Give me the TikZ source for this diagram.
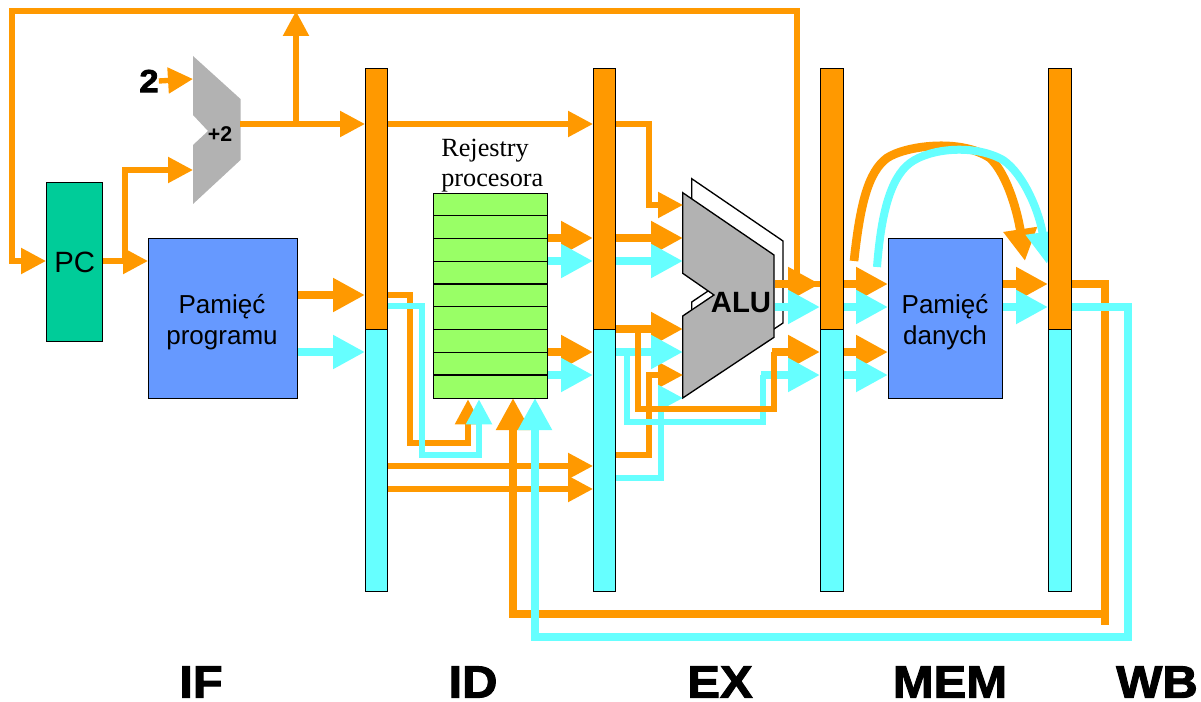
\documentclass[tikz,border=0pt]{standalone}
\usepackage{fontspec}
\setmainfont{Liberation Sans}
\newfontfamily\regfont{Liberation Serif}
\newfontfamily\heavyfont[BoldFeatures={FakeBold=2.2,FakeStretch=1.08}]{Liberation Sans}
\usetikzlibrary{arrows.meta,backgrounds}
\definecolor{oline}{HTML}{FF9900}
\definecolor{cline}{HTML}{66FFFF}
\definecolor{pcfill}{HTML}{00CC99}
\definecolor{memfill}{HTML}{6699FF}
\definecolor{regfill}{HTML}{99FF66}
\definecolor{alufill}{HTML}{B2B2B2}

\begin{document}
\begin{tikzpicture}[x=0.75pt,y=0.75pt,yscale=-1,xscale=1,
  box/.style n args={2}{draw=black,line width=1pt,inner sep=0pt,anchor=north west,minimum width=#1*0.75pt,minimum height=#2*0.75pt},
  wire/.style={line width=4pt,line join=miter},
  bus/.style={line width=6pt,line join=miter},
  wiretip/.style={wire,-{Triangle[length=18.75pt,width=18.75pt]}},
  bustip/.style={bus,-{Triangle[length=24pt,width=24pt]}},
  stage/.style={font=\heavyfont\bfseries\fontsize{34}{40}\selectfont,inner sep=0pt},
  label/.style={font=\fontsize{19.5}{23.25}\selectfont,align=center,inner sep=0pt}]
\useasboundingbox (0,0) rectangle (1201,702);

%Shape: pipeline registers
\draw (365,68) node [box={22}{261},fill=oline] (ifidTop) {};
\draw (365,329) node [box={22}{262},fill=cline] (ifidBot) {};
\draw (593,68) node [box={22}{261},fill=oline] (idexTop) {};
\draw (593,329) node [box={22}{262},fill=cline] (idexBot) {};
\draw (820,68) node [box={23}{261},fill=oline] (exmemTop) {};
\draw (820,329) node [box={23}{262},fill=cline] (exmemBot) {};
\draw (1048,68) node [box={23}{261},fill=oline] (memwbTop) {};
\draw (1048,329) node [box={23}{262},fill=cline] (memwbBot) {};

%Shape: blocks
\draw (46,182) node [box={56}{159},fill=pcfill,label,font=\fontsize{22}{26}\selectfont] (pc) {PC};
\draw (148,238) node [box={149}{160},fill=memfill] (progMem) {};
\draw (888,238) node [box={114}{160},fill=memfill] (dataMem) {};
\draw (433,193) node [box={114}{205},fill=regfill] (regs) {};
\foreach \y in {215.75,238.5,261.25,284,306.75,329.5,352.25,375} {
  \draw [line width=1pt] (regs.west |- 0,\y) -- (regs.east |- 0,\y);
}

% Text Node
\draw (222,322) node [label] (progName) {Pamięć\\programu};
\draw (945,322) node [label] (dataName) {Pamięć\\danych};
\draw (441,139) node [anchor=north west,inner sep=0pt,align=left,font=\regfont\fontsize{19.7}{22.5}\selectfont] (regsName) {Rejestry\\procesora};
\draw (220,134) node [inner sep=0pt,font=\bfseries\fontsize{16}{18}\selectfont] (adderName) {+2};
\draw (149,81) node [inner sep=0pt,font=\heavyfont\bfseries\fontsize{24}{26}\selectfont] (two) {2};
\draw (741,303) node [inner sep=0pt,font=\bfseries\fontsize{22}{26}\selectfont] (aluName) {ALU};
\draw (201,682) node [stage] (ifName) {IF};
\draw (473,682) node [stage] (idName) {ID};
\draw (720,682) node [stage] (exName) {EX};
\draw (950,682) node [stage] (memName) {MEM};
\draw (1157,682) node [stage] (wbName) {WB};

\coordinate (addIn) at (193,79);
\coordinate (addOut) at (240,124);
\coordinate (aluOut) at (775,284);

\begin{pgfonlayer}{background}
%Shape: adder
\fill [alufill] (193,56) -- (240.5,99) -- (240.5,160) -- (193,204) -- (193,145) -- (208,131) -- (193,115) -- cycle;
%Shape: ALU
\draw [fill=white,line width=1pt] (691.7,178.7) -- (783,241) -- (783,323) -- (691.7,384) -- (691.7,302) -- (723,281) -- (691.7,259) -- cycle;
\draw [fill=alufill,line width=1pt] (682.7,192.7) -- (774,255) -- (774,337.3) -- (682.7,398) -- (682.7,316) -- (714,295) -- (682.7,273.3) -- cycle;

%Straight Lines: program counter and adder
\draw [wiretip,oline] (two.east) -- (addIn);
\draw [wiretip,oline] (addOut) -- (ifidTop.west |- addOut);
\draw [wiretip,oline] (296,124) -- (296,11);
\draw [wiretip,oline] (exmemTop.west |- 0,284) -- ++(-23,0) -- (797,11) -- (12,11) -- (12,261) -- (pc.west |- 0,261);
\draw [wiretip,oline] (pc.east |- 0,261) -- (progMem.west |- 0,261);
\draw [wiretip,oline] (125,261) -- (125,170) -- (193,170);

%Straight Lines: orange paths
\draw [bustip,oline] (progMem.east |- 0,295) -- (ifidTop.west |- 0,295);
\draw [wiretip,oline] (ifidTop.east |- 0,124) -- (idexTop.west |- 0,124);
\draw [wiretip,oline] (ifidTop.east |- 0,295) -- (410,295) -- (410,443) -- (468,443) -- (regs.south -| 468,0);
\draw [wiretip,oline] (ifidBot.east |- 0,466) -- (idexBot.west |- 0,466);
\draw [wiretip,oline] (ifidBot.east |- 0,489) -- (idexBot.west |- 0,489);
\draw [bustip,oline] (regs.east |- 0,238) -- (idexTop.west |- 0,238);
\draw [bustip,oline] (regs.east |- 0,352) -- (idexBot.west |- 0,352);
\draw [wiretip,oline] (idexTop.east |- 0,124) -- (649,124) -- (649,205) -- (683,205);
\draw [bustip,oline] (idexTop.east |- 0,238) -- (683,238);
\draw [bustip,oline] (idexTop.east |- 0,329) -- (683,329);
\draw [wiretip,oline] (idexBot.east |- 0,455) -- (649,455) -- (649,375) -- (683,375);
\draw [bustip,oline] (772,352) -- (exmemBot.west |- 0,352);
\draw [bustip,oline] (aluOut) -- (exmemTop.west |- aluOut);
\draw [bustip,oline] (exmemTop.east |- 0,284) -- (dataMem.west |- 0,284);
\draw [bustip,oline] (exmemBot.east |- 0,352) -- (dataMem.west |- 0,352);
\draw [bustip,oline] (dataMem.east |- 0,284) -- (memwbTop.west |- 0,284);
\draw [bus,oline] (memwbTop.east |- 0,284) -- (1105,284) -- (1105,625);
\draw [bustip,oline] (1105,614) -- (513,614) -- (513,398);
\draw [bustip,oline,line width=6.5pt] (854,261) .. controls (860,205) and (868,172) .. (887,158) .. controls (905,146) and (960,138) .. (990,158) .. controls (1008,175) and (1018,215) .. (1025,261);

%Straight Lines: cyan paths
\draw [bustip,cline] (progMem.east |- 0,352) -- (ifidBot.west |- 0,352);
\draw [wiretip,cline] (ifidTop.east |- 0,306) -- (422,306) -- (422,455) -- (479,455) -- (regs.south -| 479,0);
\draw [bustip,cline] (regs.east |- 0,261) -- (idexTop.west |- 0,261);
\draw [bustip,cline] (regs.east |- 0,375) -- (idexBot.west |- 0,375);
\draw [bustip,cline] (idexTop.east |- 0,261) -- (683,261);
\draw [bustip,cline] (idexBot.east |- 0,352) -- (683,352);
\draw [wiretip,cline] (idexBot.east |- 0,478) -- (661,478) -- (661,398) -- (683,398);
\draw [wire,cline] (627,352) -- (627,422) -- (763,422) -- (763,375);
\draw [bustip,cline] (761,375) -- (exmemBot.west |- 0,375);
\draw [bustip,cline] (aluOut |- 0,307) -- (exmemTop.west |- 0,307);
\draw [bustip,cline] (exmemTop.east |- 0,307) -- (dataMem.west |- 0,307);
\draw [bustip,cline] (exmemBot.east |- 0,375) -- (dataMem.west |- 0,375);
\draw [bustip,cline] (dataMem.east |- 0,307) -- (memwbTop.west |- 0,307);
\draw [bustip,cline] (memwbTop.east |- 0,307) -- (1128,307) -- (1128,637) -- (535,637) -- (535,398);
\draw [bustip,cline] (877,267) .. controls (881,215) and (890,178) .. (910,163) .. controls (930,148) and (975,144) .. (1003,160) .. controls (1025,175) and (1040,215) .. (1047,264);

%Straight Lines: orange branch over the cyan ones
\draw [wire,oline] (638,329) -- (638,409) -- (774,409) -- (774,352);
\end{pgfonlayer}

\end{tikzpicture}
\end{document}
